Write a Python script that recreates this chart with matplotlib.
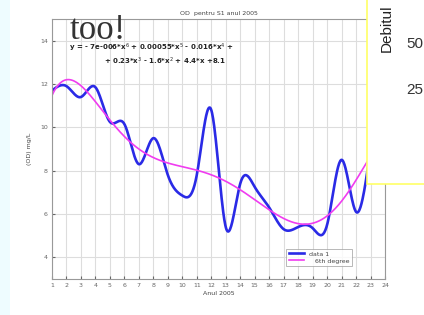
import numpy as np
import matplotlib
matplotlib.use("Agg")
import matplotlib.pyplot as plt
from matplotlib.patches import Rectangle

# monthly OD readings (mg/L)
months = list(range(1, 24))
od_values = [11.7, 11.9, 11.4, 11.85, 10.25, 10.15, 8.3, 9.5, 7.8, 6.85, 7.8, 10.8,
             5.4, 7.4, 7.25, 6.3, 5.3, 5.4, 5.35, 5.5, 8.5, 6.1, 9.0]

x_ticks = list(range(1, 25))
y_ticks = [4, 6, 8, 10, 12, 14]

eq_line1 = r"y = - 7e-006*x$^6$ + 0.00055*x$^5$ - 0.016*x$^4$ +"
eq_line2 = r"+ 0.23*x$^3$ - 1.6*x$^2$ + 4.4*x +8.1"


def natural_spline(xs, ys, xq):
    """Natural cubic spline through (xs, ys), evaluated at xq."""
    xs = np.asarray(xs, float)
    ys = np.asarray(ys, float)
    n = len(xs)
    h = np.diff(xs)
    A = np.zeros((n, n))
    b = np.zeros(n)
    A[0, 0] = A[-1, -1] = 1
    for i in range(1, n - 1):
        A[i, i - 1] = h[i - 1]
        A[i, i] = 2 * (h[i - 1] + h[i])
        A[i, i + 1] = h[i]
        b[i] = 6 * ((ys[i + 1] - ys[i]) / h[i] - (ys[i] - ys[i - 1]) / h[i - 1])
    m = np.linalg.solve(A, b)
    idx = np.clip(np.searchsorted(xs, xq) - 1, 0, n - 2)
    x0, x1 = xs[idx], xs[idx + 1]
    hh = x1 - x0
    t0, t1 = x1 - xq, xq - x0
    return (m[idx] * t0 ** 3 / (6 * hh) + m[idx + 1] * t1 ** 3 / (6 * hh)
            + (ys[idx] / hh - m[idx] * hh / 6) * t0
            + (ys[idx + 1] / hh - m[idx + 1] * hh / 6) * t1)


xx = np.linspace(months[0], months[-1], 600)
smooth = natural_spline(months, od_values, xx)
coef = np.polyfit(months, od_values, 6)
fit = np.polyval(coef, xx)

fig = plt.figure(figsize=(4.24, 3.15), dpi=100)
fig.patch.set_facecolor("white")
# light cyan strip on the slide's left edge
fig.patches.append(Rectangle((0, 0), 10 / 424, 1, transform=fig.transFigure,
                             facecolor="#eefcff", edgecolor="none", zorder=0))

ax = fig.add_axes([52 / 424, 1 - 279 / 315, 333 / 424, 260 / 315])
ax.plot(xx, smooth, color="#2a2ae6", lw=1.9, label="data 1")
ax.plot(xx, fit, color="#f03cf0", lw=1.2, label="   6th degree")
ax.set_xlim(1, 24)
ax.set_ylim(3, 15)
ax.set_xticks(x_ticks)
ax.set_yticks(y_ticks)
ax.grid(True, color="#dddddd", lw=0.8)
ax.tick_params(direction="in", length=2, labelsize=4.5, colors="#666666", pad=3)
for s in ax.spines.values():
    s.set_color("#999999")
    s.set_linewidth(0.8)
ax.set_title("OD  pentru S1 anul 2005", fontsize=4.5, color="#444444", pad=3)
ax.set_xlabel("Anul 2005", fontsize=4.5, color="#444444", labelpad=2)
ax.set_ylabel("(OD) mg/L", fontsize=4.5, color="#444444", labelpad=6)

leg = ax.legend(loc="lower left", bbox_to_anchor=((286 - 52) / 333, (279 - 266) / 260),
                fontsize=4.5, frameon=True, fancybox=False, handlelength=2.5,
                borderpad=0.4, labelspacing=0.25, borderaxespad=0)
leg.get_frame().set_edgecolor("#999999")
leg.get_frame().set_linewidth(0.6)
for t in leg.get_texts():
    t.set_color("#444444")

fig.text(70 / 424, 1 - 39 / 315, "too!", fontsize=25, family="Liberation Serif",
         color="#333333", ha="left", va="baseline")
fig.text(69 / 424, 1 - 48 / 315, eq_line1, fontsize=5.0, weight="bold",
         color="#222222", ha="left", va="center")
fig.text(226 / 424, 1 - 61 / 315, eq_line2, fontsize=5.0, weight="bold",
         color="#222222", ha="right", va="center")

# overlapping slide box at the top right
fig.patches.append(Rectangle((367 / 424, 1 - 184 / 315), 60 / 424, 190 / 315,
                             transform=fig.transFigure, facecolor="white",
                             edgecolor="#ffff66", lw=1.2, zorder=5))
fig.text(387 / 424, 1 - 52 / 315, "Debitul", rotation=90, fontsize=11,
         family="Liberation Sans", color="#222222", ha="center", va="bottom",
         zorder=6)
fig.text(406 / 424, 1 - 44 / 315, "50", fontsize=11, family="Liberation Sans",
         color="#333333", ha="left", va="center", zorder=6)
fig.text(406 / 424, 1 - 90 / 315, "25", fontsize=11, family="Liberation Sans",
         color="#333333", ha="left", va="center", zorder=6)

fig.savefig("out.png", dpi=100)
